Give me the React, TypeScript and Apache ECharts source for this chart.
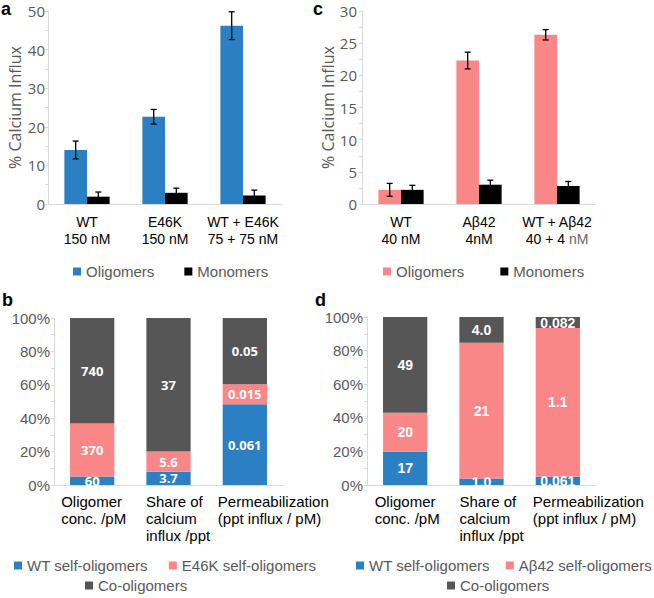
import React, { useEffect, useRef } from 'react';
import * as echarts from 'echarts';

// ---- Panel a data ----
const aCategories = ['WT\n150 nM', 'E46K\n150 nM', 'WT + E46K\n75 + 75 nM'];
const aOligomers = [14.0, 22.6, 46.2];
const aOligomersErr = [2.3, 1.9, 3.6];
const aMonomers = [1.9, 2.9, 2.2];
const aMonomersErr = [1.2, 1.2, 1.4];

// ---- Panel c data ----
const cCategories = ['WT\n40 nM', 'Aβ42\n4nM', '{k|WT + Aβ42}\n{k|40 + 4 }{g|nM}'];
const cOligomers = [2.2, 22.3, 26.3];
const cOligomersErr = [1.0, 1.3, 0.8];
const cMonomers = [2.2, 3.0, 2.8];
const cMonomersErr = [0.7, 0.7, 0.7];

// ---- Panels b / d data (labels are raw values; bars are shares of the column total) ----
const stackCategories = ['Oligomer\nconc. /pM', 'Share of\ncalcium\ninflux /ppt', 'Permeabilization\n(ppt influx / pM)'];
const bWT = [60, 3.7, 0.061];
const bE46K = [370, 5.6, 0.015];
const bCo = [740, 37, 0.05];
const dWT = [17, 1.0, 0.061];
const dAb42 = [20, 21, 1.1];
const dCo = [49, 4.0, 0.082];

const BLUE = '#2B80C4';
const PINK = '#F98787';
const DARK = '#565656';
const GRAY_TXT = '#595959';
const AXIS = '#d9d9d9';
const SANS = '"Liberation Sans", Arial, sans-serif';
const OPEN = '"Open Sans", "Liberation Sans", sans-serif';
const GAP = 0.42;

const fmt = (n: number) => (Number.isInteger(n) && n < 10 ? n.toFixed(1) : String(n));

function shares(parts: number[][], k: number) {
  return parts[k].map((v, i) => {
    const tot = parts.reduce((s, p) => s + p[i], 0);
    return { value: (v / tot) * 100, raw: fmt(v) };
  });
}

function errorSeries(idx: number, values: number[], errs: number[], side: number) {
  return {
    type: 'custom',
    xAxisIndex: idx,
    yAxisIndex: idx,
    z: 10,
    silent: true,
    data: values.map((v, i) => [i, v, errs[i]]),
    encode: { x: 0, y: 1 },
    renderItem: (_p: any, api: any) => {
      const i = api.value(0);
      const v = api.value(1);
      const e = api.value(2);
      const catW = api.size([1, 0])[0];
      const barW = (catW * (1 - GAP)) / 2;
      const x = api.coord([i, v])[0] + (side * barW) / 2;
      const yTop = api.coord([i, v + e])[1];
      const yBot = api.coord([i, v - e])[1];
      const cap = 3;
      const style = { stroke: '#000', lineWidth: 1.3 };
      return {
        type: 'group',
        children: [
          { type: 'line', shape: { x1: x, y1: yTop, x2: x, y2: yBot }, style },
          { type: 'line', shape: { x1: x - cap, y1: yTop, x2: x + cap, y2: yTop }, style },
          { type: 'line', shape: { x1: x - cap, y1: yBot, x2: x + cap, y2: yBot }, style },
        ],
      };
    },
  };
}

function barYAxis(idx: number, max: number, interval: number, nameGap: number, margin: number) {
  return {
    type: 'value',
    gridIndex: idx,
    min: 0,
    max,
    interval,
    name: '% Calcium Influx',
    nameLocation: 'middle',
    nameGap,
    nameTextStyle: { color: GRAY_TXT, fontFamily: OPEN, fontSize: 16 },
    axisLine: { show: true, lineStyle: { color: AXIS } },
    axisTick: { show: true, length: 3, lineStyle: { color: AXIS } },
    minorTick: { show: true, splitNumber: 2, length: 3, lineStyle: { color: AXIS } },
    splitLine: { show: false },
    axisLabel: { color: GRAY_TXT, fontFamily: OPEN, fontSize: 15, lineHeight: 15, margin },
  };
}

function pctYAxis(idx: number) {
  return {
    type: 'value',
    gridIndex: idx,
    min: 0,
    max: 100,
    interval: 20,
    axisLine: { show: true, lineStyle: { color: AXIS } },
    axisTick: { show: true, length: 3, lineStyle: { color: AXIS } },
    minorTick: { show: true, splitNumber: 2, length: 3, lineStyle: { color: AXIS } },
    splitLine: { show: false },
    axisLabel: { color: GRAY_TXT, fontFamily: SANS, fontSize: 15, margin: 4, formatter: '{value}%' },
  };
}

function catXAxis(idx: number, data: string[], extra: any) {
  return {
    type: 'category',
    gridIndex: idx,
    data,
    axisLine: { show: true, lineStyle: { color: AXIS } },
    axisTick: { show: false },
    axisLabel: {
      interval: 0,
      color: '#000',
      fontFamily: SANS,
      fontSize: 14,
      lineHeight: 17,
      margin: 9,
      ...extra,
    },
  };
}

function stackXAxis(idx: number, widths: number[]) {
  const rich: any = {};
  widths.forEach((w, i) => {
    rich['c' + i] = { width: w, align: 'left', fontSize: 15, lineHeight: 17, color: '#000', fontFamily: SANS };
  });
  return catXAxis(idx, stackCategories, {
    fontSize: 15,
    margin: 8,
    formatter: (v: string, i: number) =>
      v
        .split('\n')
        .map((l) => `{c${i}|${l}}`)
        .join('\n'),
    rich,
  });
}

function stackSeries(name: string, idx: number, data: any[], color: string, font: string, size: number) {
  return {
    name,
    type: 'bar',
    stack: 's' + idx,
    xAxisIndex: idx,
    yAxisIndex: idx,
    barCategoryGap: GAP * 100 + '%',
    itemStyle: { color },
    data,
    label: {
      show: true,
      position: 'inside',
      color: '#fff',
      fontWeight: 'bold',
      fontFamily: font,
      fontSize: size,
      formatter: (p: any) => p.data.raw,
    },
  };
}

const legendText = { color: GRAY_TXT, fontFamily: SANS, fontSize: 15 };
const legendCommon = {
  icon: 'rect',
  itemWidth: 8,
  itemHeight: 8,
  padding: 0,
  width: 330,
  selectedMode: false,
  textStyle: legendText,
  formatter: (n: string) => n.split('|')[1],
};

export default function App() {
  const ref = useRef<HTMLDivElement>(null);
  useEffect(() => {
    if (!ref.current) return;
    const chart = echarts.init(ref.current, undefined, { renderer: 'svg' });
    const bParts = [bWT, bE46K, bCo];
    const dParts = [dWT, dAb42, dCo];
    chart.setOption({
      animation: false,
      backgroundColor: '#fff',
      grid: [
        { left: 48, top: 11, width: 234, height: 193 },
        { left: 362, top: 11, width: 234, height: 193 },
        { left: 54, top: 318, width: 229, height: 167 },
        { left: 367, top: 317, width: 229, height: 168 },
      ],
      xAxis: [
        catXAxis(0, aCategories, {}),
        catXAxis(1, cCategories, {
          rich: {
            k: { fontSize: 14, lineHeight: 17, color: '#000', fontFamily: SANS },
            g: { fontSize: 14, lineHeight: 17, color: '#666', fontFamily: SANS },
          },
        }),
        stackXAxis(2, [62, 45, 54]),
        stackXAxis(3, [61, 44, 50]),
      ],
      yAxis: [barYAxis(0, 50, 10, 25, 3), barYAxis(1, 30, 5, 24, 5), pctYAxis(2), pctYAxis(3)],
      legend: [
        { ...legendCommon, data: ['a|Oligomers', 'a|Monomers'], left: 73, top: 264, itemGap: 30 },
        { ...legendCommon, data: ['c|Oligomers', 'c|Monomers'], left: 383, top: 264, itemGap: 36 },
        { ...legendCommon, data: ['b|WT self-oligomers', 'b|E46K self-oligomers'], left: 14, top: 558, itemGap: 21 },
        { ...legendCommon, data: ['b|Co-oligomers'], left: 85, top: 578 },
        { ...legendCommon, data: ['d|WT self-oligomers', 'd|Aβ42 self-oligomers'], left: 356, top: 558, itemGap: 16 },
        { ...legendCommon, data: ['d|Co-oligomers'], left: 447, top: 578 },
      ],
      graphic: [
        { type: 'text', left: 1, top: 0, style: { text: 'a', font: 'bold 18px Arial', fill: '#000' } },
        { type: 'text', left: 313, top: 0, style: { text: 'c', font: 'bold 18px Arial', fill: '#000' } },
        { type: 'text', left: 2, top: 291, style: { text: 'b', font: 'bold 18px Arial', fill: '#000' } },
        { type: 'text', left: 315, top: 291, style: { text: 'd', font: 'bold 18px Arial', fill: '#000' } },
      ],
      series: [
        { name: 'a|Oligomers', type: 'bar', xAxisIndex: 0, yAxisIndex: 0, barGap: '0%', barCategoryGap: GAP * 100 + '%', itemStyle: { color: BLUE }, data: aOligomers },
        { name: 'a|Monomers', type: 'bar', xAxisIndex: 0, yAxisIndex: 0, barGap: '0%', barCategoryGap: GAP * 100 + '%', itemStyle: { color: '#000' }, data: aMonomers },
        errorSeries(0, aOligomers, aOligomersErr, -1),
        errorSeries(0, aMonomers, aMonomersErr, 1),
        { name: 'c|Oligomers', type: 'bar', xAxisIndex: 1, yAxisIndex: 1, barGap: '0%', barCategoryGap: GAP * 100 + '%', itemStyle: { color: PINK }, data: cOligomers },
        { name: 'c|Monomers', type: 'bar', xAxisIndex: 1, yAxisIndex: 1, barGap: '0%', barCategoryGap: GAP * 100 + '%', itemStyle: { color: '#000' }, data: cMonomers },
        errorSeries(1, cOligomers, cOligomersErr, -1),
        errorSeries(1, cMonomers, cMonomersErr, 1),
        stackSeries('b|WT self-oligomers', 2, shares(bParts, 0), BLUE, OPEN, 13),
        stackSeries('b|E46K self-oligomers', 2, shares(bParts, 1), PINK, OPEN, 13),
        stackSeries('b|Co-oligomers', 2, shares(bParts, 2), DARK, OPEN, 13),
        stackSeries('d|WT self-oligomers', 3, shares(dParts, 0), BLUE, SANS, 14),
        stackSeries('d|Aβ42 self-oligomers', 3, shares(dParts, 1), PINK, SANS, 14),
        stackSeries('d|Co-oligomers', 3, shares(dParts, 2), DARK, SANS, 14),
      ],
    });
    return () => chart.dispose();
  }, []);
  return <div ref={ref} style={{ position: 'absolute', left: 0, top: 0, width: 654, height: 598 }} />;
}
